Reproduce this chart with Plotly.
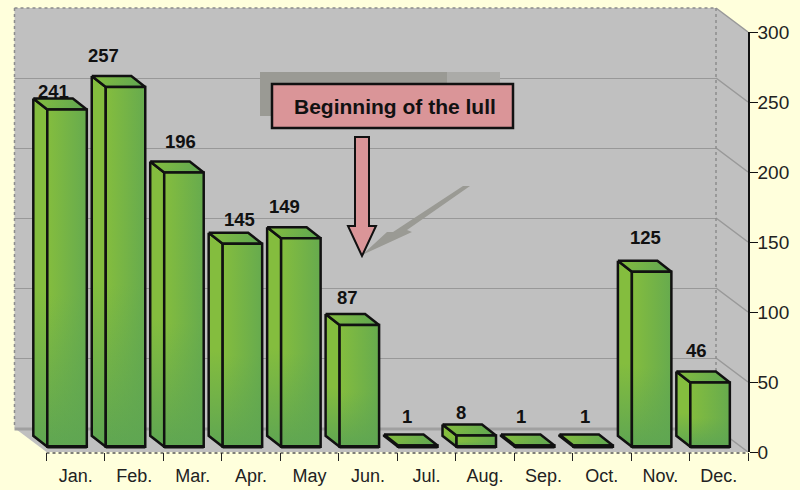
import plotly.graph_objects as go

# Monthly counts
months = ["Jan.", "Feb.", "Mar.", "Apr.", "May", "Jun.", "Jul.", "Aug.", "Sep.", "Oct.", "Nov.", "Dec."]
counts = [241, 257, 196, 145, 149, 87, 1, 8, 1, 1, 125, 46]
y_ticks = [0, 50, 100, 150, 200, 250, 300]

# Label placement relative to each bar: pixels right of the month's left tick, pixels above the top face
label_dx = [7, -1, 17, 18, 4, 9, 10, 5, 7, 12, 14, 7]
label_dy = [7, 21, 20, 13, 21, 17, 18, 12, 18, 18, 23, 21]

W, H = 800, 490
LEFT, RIGHT, TOP, BOTTOM = 46.5, 748, 32, 452
SLOT = (RIGHT - LEFT) / 12
PX_PER_UNIT = (BOTTOM - TOP) / 300
X_START = -0.6  # room left of January for the bar's depth

# Chart-box depth and bar depth, in pixels
WALL_DX, WALL_DY = 32, 24
BAR_DX, BAR_DY = 14, 11
BAR_W = 39.5 / SLOT
BAR_PAD = 0.8 / SLOT
BAR_BASE = 5.2 / PX_PER_UNIT

BG = "#FFFFDC"
WALL = "#C0C0C0"
GRID = "#989898"
INK = "#111111"
PINK = "#DA9598"
SHADOW = "#9A9A94"
LIGHT = "#84BD3E"
MID = "#7AB744"
DARK = "#5FA652"


def px(x):
    return x / W


def py(y):
    return 1 - y / H


def poly(points, fill=None, line=None, width=1, dash=None, layer="below"):
    path = "M" + "L".join(f"{px(a):.5f},{py(b):.5f}" for a, b in points) + "Z"
    return dict(
        type="path", xref="paper", yref="paper", path=path, layer=layer,
        fillcolor=fill or "rgba(0,0,0,0)",
        line=dict(color=line or "rgba(0,0,0,0)", width=width, dash=dash or "solid"),
    )


def seg(a, b, color, width=1, dash="solid", layer="below"):
    return dict(
        type="line", xref="paper", yref="paper", layer=layer,
        x0=px(a[0]), y0=py(a[1]), x1=px(b[0]), y1=py(b[1]),
        line=dict(color=color, width=width, dash=dash),
    )


back_l, back_r = LEFT - WALL_DX, RIGHT - WALL_DX
shapes = [
    # Back wall, floor and right side of the chart box
    poly([(back_l, TOP - WALL_DY), (back_r, TOP - WALL_DY), (back_r, BOTTOM - WALL_DY), (back_l, BOTTOM - WALL_DY)], WALL),
    poly([(back_l, BOTTOM - WALL_DY), (back_r, BOTTOM - WALL_DY), (RIGHT, BOTTOM), (LEFT, BOTTOM)], WALL),
    poly([(back_r, TOP - WALL_DY), (RIGHT, TOP), (RIGHT, BOTTOM), (back_r, BOTTOM - WALL_DY)], WALL),
]
for v in y_ticks:
    y = BOTTOM - v * PX_PER_UNIT
    if v == 0:
        shapes.append(seg((back_l, y - WALL_DY + 1), (back_r, y - WALL_DY + 1), "#A0A0A0", 3))
    elif v < 300:
        shapes.append(seg((back_l, round(y) - WALL_DY + 0.5), (back_r, round(y) - WALL_DY + 0.5), GRID, 1))
    shapes.append(seg((back_r, y - WALL_DY), (RIGHT, y), GRID, 1.5))
shapes += [
    seg((back_l, TOP - WALL_DY), (back_r, TOP - WALL_DY), "#8C8C8C", 1.5, "dot"),
    seg((back_l, TOP - WALL_DY), (back_l, BOTTOM - WALL_DY), "#8C8C8C", 1.5, "dot"),
    seg((back_r, TOP - WALL_DY), (back_r, BOTTOM - WALL_DY), "#8C8C8C", 1.5, "dot"),
    seg((LEFT, BOTTOM + 1), (RIGHT, BOTTOM + 1), "#555555", 1.5, "dot"),
]

# Callout: drop shadows first, then the box and the arrow
callout = [
    poly([(260, 72), (447, 72), (447, 116), (260, 116)], SHADOW, layer="above"),
    poly([(447, 72), (500, 72), (500, 90), (447, 90)], "#ABABA8", layer="above"),
    poly([(362, 255), (387, 232), (393, 232), (463, 186), (470, 186), (407, 230), (412, 232)], SHADOW, layer="above"),
    poly([(272, 84), (513, 84), (513, 128), (272, 128)], PINK, INK, 2.5, layer="above"),
    poly([(355, 137), (369, 137), (369, 226), (376, 226), (362, 256), (348, 226), (355, 226)], PINK, INK, 2, layer="above"),
]
shapes += callout

fig = go.Figure()


def face(xs, ys, vertical, horizontal=None):
    """One filled bar face, graded top-to-bottom and optionally left-to-right."""
    fig.add_trace(go.Scatter(
        x=xs + xs[:1], y=ys + ys[:1], mode="lines", fill="toself",
        fillgradient=dict(type="vertical", colorscale=[[0, vertical[1]], [0.45, vertical[0]], [1, vertical[0]]]),
        line=dict(width=0), hoverinfo="skip", showlegend=False,
    ))
    fig.add_trace(go.Scatter(
        x=xs + xs[:1], y=ys + ys[:1], mode="lines", fill="toself",
        fillgradient=dict(type="horizontal", colorscale=[[0, "rgba(95,166,82,0)"], [1, horizontal or "rgba(95,166,82,0)"]]),
        line=dict(color=INK, width=2.5), hoverinfo="skip", showlegend=False,
    ))


ddx = BAR_DX / SLOT
ddy = BAR_DY / PX_PER_UNIT
annotations = []
for i, (label, value) in enumerate(zip(months, counts)):
    x0 = i + BAR_PAD
    x1 = x0 + BAR_W
    y0 = BAR_BASE
    y1 = BAR_BASE + value
    # Side, top, then front face, with a heavier edge along the foot of the bar
    face([x0 - ddx, x0, x0, x0 - ddx], [y1 + ddy, y1, y0, y0 + ddy], (LIGHT, DARK))
    face([x0 - ddx, x1 - ddx, x1, x0], [y1 + ddy, y1 + ddy, y1, y1], (LIGHT, MID), "rgba(95,166,82,1)")
    face([x0, x1, x1, x0], [y1, y1, y0, y0], (LIGHT, DARK), "rgba(95,166,82,0.8)")
    fig.add_trace(go.Scatter(
        x=[x0, x1], y=[y0, y0], mode="lines", line=dict(color=INK, width=3.5),
        hoverinfo="skip", showlegend=False,
    ))
    annotations.append(dict(
        x=i, y=y1 + ddy, xref="x", yref="y", text=f"<b>{value}</b>", showarrow=False,
        xanchor="center", yanchor="middle", xshift=label_dx[i], yshift=label_dy[i],
        font=dict(family="Liberation Sans", size=18.5, color=INK),
    ))

annotations.append(dict(
    x=px(395), y=py(106), xref="paper", yref="paper", text="<b>Beginning of the lull</b>",
    showarrow=False, xanchor="center", yanchor="middle",
    font=dict(family="Liberation Sans", size=21, color=INK),
))

fig.update_layout(
    width=W, height=H, margin=dict(l=0, r=0, t=0, b=0, pad=0, autoexpand=False), autosize=False,
    paper_bgcolor=BG, plot_bgcolor="rgba(0,0,0,0)", showlegend=False,
    shapes=shapes, annotations=annotations,
    xaxis=dict(
        domain=[px(LEFT + X_START * SLOT), px(RIGHT)], range=[X_START, 12], showgrid=False, zeroline=False, showline=False,
        tickmode="array", tickvals=[i + 0.5 for i in range(12)], ticktext=months, ticks="",
        ticklabelstandoff=11, tickfont=dict(family="Liberation Sans", size=18, color="#222222"),
        minor=dict(tickmode="array", tickvals=list(range(13)), ticks="outside", ticklen=8, tickwidth=1, tickcolor="#222222", showgrid=False),
    ),
    yaxis=dict(
        domain=[py(BOTTOM), py(TOP)], range=[0, 300], side="right", showgrid=False, zeroline=False,
        showline=True, linecolor="#111111", linewidth=1.5,
        tickmode="array", tickvals=y_ticks, ticks="outside", ticklen=8, tickwidth=1, tickcolor="#111111",
        ticklabelstandoff=-4, tickfont=dict(family="Liberation Sans", size=19, color="#222222"),
    ),
)

fig.write_html("out.html")
